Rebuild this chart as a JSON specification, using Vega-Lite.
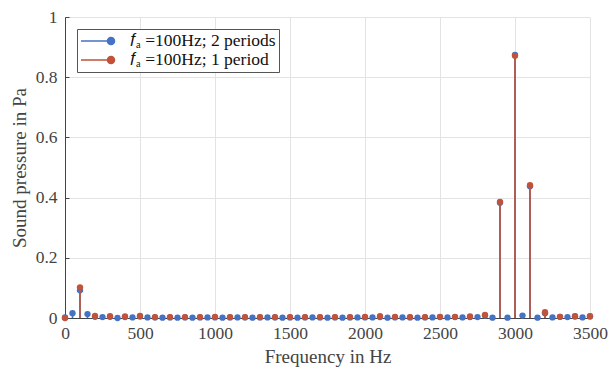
{
  "$schema": "https://vega.github.io/schema/vega-lite/v6.json",
  "width": 525,
  "height": 301,
  "autosize": {"type": "none"},
  "padding": {"left": 65, "top": 17, "right": 19, "bottom": 52},
  "background": "white",
  "config": {
    "view": {"stroke": null},
    "font": "Liberation Serif",
    "style": {"guide-label": {"font": "Liberation Serif"}, "guide-title": {"font": "Liberation Serif"}},
    "axis": {
      "labelFont": "Liberation Serif",
      "titleFont": "Liberation Serif",
      "labelFontSize": 17.5,
      "titleFontSize": 19,
      "titleFontWeight": "normal",
      "labelColor": "#444444",
      "titleColor": "#444444",
      "domainColor": "#444444",
      "tickColor": "#444444",
      "gridColor": "#e3e3e3",
      "tickSize": -4,
      "labelFlush": false
    }
  },
  "data": {
    "values": [
      {"f": 0, "p": 0.002, "k": 2},
      {"f": 50, "p": 0.016, "k": 2},
      {"f": 100, "p": 0.092, "k": 2},
      {"f": 150, "p": 0.013, "k": 2},
      {"f": 200, "p": 0.004, "k": 2},
      {"f": 250, "p": 0.003, "k": 2},
      {"f": 300, "p": 0.004, "k": 2},
      {"f": 350, "p": 0.0, "k": 2},
      {"f": 400, "p": 0.003, "k": 2},
      {"f": 450, "p": 0.002, "k": 2},
      {"f": 500, "p": 0.005, "k": 2},
      {"f": 550, "p": 0.002, "k": 2},
      {"f": 600, "p": 0.002, "k": 2},
      {"f": 650, "p": 0.001, "k": 2},
      {"f": 700, "p": 0.002, "k": 2},
      {"f": 750, "p": 0.001, "k": 2},
      {"f": 800, "p": 0.002, "k": 2},
      {"f": 850, "p": 0.001, "k": 2},
      {"f": 900, "p": 0.002, "k": 2},
      {"f": 950, "p": 0.002, "k": 2},
      {"f": 1000, "p": 0.002, "k": 2},
      {"f": 1050, "p": 0.001, "k": 2},
      {"f": 1100, "p": 0.002, "k": 2},
      {"f": 1150, "p": 0.002, "k": 2},
      {"f": 1200, "p": 0.002, "k": 2},
      {"f": 1250, "p": 0.001, "k": 2},
      {"f": 1300, "p": 0.002, "k": 2},
      {"f": 1350, "p": 0.002, "k": 2},
      {"f": 1400, "p": 0.002, "k": 2},
      {"f": 1450, "p": 0.001, "k": 2},
      {"f": 1500, "p": 0.002, "k": 2},
      {"f": 1550, "p": 0.001, "k": 2},
      {"f": 1600, "p": 0.002, "k": 2},
      {"f": 1650, "p": 0.002, "k": 2},
      {"f": 1700, "p": 0.002, "k": 2},
      {"f": 1750, "p": 0.001, "k": 2},
      {"f": 1800, "p": 0.002, "k": 2},
      {"f": 1850, "p": 0.001, "k": 2},
      {"f": 1900, "p": 0.002, "k": 2},
      {"f": 1950, "p": 0.002, "k": 2},
      {"f": 2000, "p": 0.002, "k": 2},
      {"f": 2050, "p": 0.002, "k": 2},
      {"f": 2100, "p": 0.003, "k": 2},
      {"f": 2150, "p": 0.001, "k": 2},
      {"f": 2200, "p": 0.002, "k": 2},
      {"f": 2250, "p": 0.002, "k": 2},
      {"f": 2300, "p": 0.002, "k": 2},
      {"f": 2350, "p": 0.001, "k": 2},
      {"f": 2400, "p": 0.002, "k": 2},
      {"f": 2450, "p": 0.002, "k": 2},
      {"f": 2500, "p": 0.003, "k": 2},
      {"f": 2550, "p": 0.002, "k": 2},
      {"f": 2600, "p": 0.003, "k": 2},
      {"f": 2650, "p": 0.002, "k": 2},
      {"f": 2700, "p": 0.003, "k": 2},
      {"f": 2750, "p": 0.003, "k": 2},
      {"f": 2800, "p": 0.008, "k": 2},
      {"f": 2850, "p": 0.001, "k": 2},
      {"f": 2900, "p": 0.383, "k": 2},
      {"f": 2950, "p": 0.001, "k": 2},
      {"f": 3000, "p": 0.874, "k": 2},
      {"f": 3050, "p": 0.008, "k": 2},
      {"f": 3100, "p": 0.438, "k": 2},
      {"f": 3150, "p": 0.001, "k": 2},
      {"f": 3200, "p": 0.016, "k": 2},
      {"f": 3250, "p": 0.002, "k": 2},
      {"f": 3300, "p": 0.004, "k": 2},
      {"f": 3350, "p": 0.003, "k": 2},
      {"f": 3400, "p": 0.005, "k": 2},
      {"f": 3450, "p": 0.002, "k": 2},
      {"f": 3500, "p": 0.005, "k": 2},
      {"f": 0, "p": 0.0, "k": 1},
      {"f": 100, "p": 0.102, "k": 1},
      {"f": 200, "p": 0.007, "k": 1},
      {"f": 300, "p": 0.006, "k": 1},
      {"f": 400, "p": 0.005, "k": 1},
      {"f": 500, "p": 0.007, "k": 1},
      {"f": 600, "p": 0.003, "k": 1},
      {"f": 700, "p": 0.003, "k": 1},
      {"f": 800, "p": 0.003, "k": 1},
      {"f": 900, "p": 0.003, "k": 1},
      {"f": 1000, "p": 0.004, "k": 1},
      {"f": 1100, "p": 0.003, "k": 1},
      {"f": 1200, "p": 0.003, "k": 1},
      {"f": 1300, "p": 0.003, "k": 1},
      {"f": 1400, "p": 0.003, "k": 1},
      {"f": 1500, "p": 0.003, "k": 1},
      {"f": 1600, "p": 0.003, "k": 1},
      {"f": 1700, "p": 0.003, "k": 1},
      {"f": 1800, "p": 0.003, "k": 1},
      {"f": 1900, "p": 0.003, "k": 1},
      {"f": 2000, "p": 0.004, "k": 1},
      {"f": 2100, "p": 0.006, "k": 1},
      {"f": 2200, "p": 0.004, "k": 1},
      {"f": 2300, "p": 0.003, "k": 1},
      {"f": 2400, "p": 0.003, "k": 1},
      {"f": 2500, "p": 0.004, "k": 1},
      {"f": 2600, "p": 0.004, "k": 1},
      {"f": 2700, "p": 0.005, "k": 1},
      {"f": 2800, "p": 0.010, "k": 1},
      {"f": 2900, "p": 0.386, "k": 1},
      {"f": 3000, "p": 0.871, "k": 1},
      {"f": 3100, "p": 0.441, "k": 1},
      {"f": 3200, "p": 0.019, "k": 1},
      {"f": 3300, "p": 0.004, "k": 1},
      {"f": 3400, "p": 0.006, "k": 1},
      {"f": 3500, "p": 0.006, "k": 1}
    ]
  },
  "transform": [
    {"calculate": "datum.k === 2 ? '𝑓ₐ =100Hz; 2 periods' : '𝑓ₐ =100Hz; 1 period'", "as": "series"}
  ],
  "encoding": {
    "x": {
      "field": "f", "type": "quantitative",
      "scale": {"domain": [0, 3500], "nice": false},
      "axis": {"title": "Frequency in Hz", "format": "d", "values": [0, 500, 1000, 1500, 2000, 2500, 3000, 3500], "grid": true, "labelFont": "Liberation Serif", "labelPadding": 10, "titlePadding": 6}
    },
    "y": {
      "field": "p", "type": "quantitative",
      "scale": {"domain": [0, 1], "nice": false},
      "axis": {"title": "Sound pressure in Pa", "format": "~g", "values": [0, 0.2, 0.4, 0.6, 0.8, 1], "grid": true, "labelFont": "Liberation Serif", "labelPadding": 12, "titlePadding": 6}
    },
    "color": {
      "field": "series", "type": "nominal",
      "scale": {"domain": ["𝑓ₐ =100Hz; 2 periods", "𝑓ₐ =100Hz; 1 period"], "range": ["#4472c4", "#c0533a"]},
      "legend": {
        "title": null,
        "orient": "top-left",
        "offset": 12,
        "fillColor": "white",
        "strokeColor": "#555555",
        "padding": 3,
        "labelFont": "Liberation Serif",
        "labelFontSize": 17.5,
        "labelColor": "#111111",
        "symbolType": "M-1,0H2.75M3.19,0A0.44,0.44,0,1,1,2.31,0A0.44,0.44,0,1,1,3.19,0Z",
        "symbolSize": 256,
        "symbolStrokeWidth": 1.5,
        "labelOffset": 32,
        "rowPadding": 1,
        "encode": {"symbols": {"update": {"stroke": {"scale": "color", "field": "value"}, "fill": {"scale": "color", "field": "value"}, "fillOpacity": {"value": 1}, "strokeWidth": {"value": 1.5}}}}
      }
    }
  },
  "layer": [
    {"transform": [{"filter": "datum.k === 2"}], "mark": {"type": "rule", "strokeWidth": 1.6}, "encoding": {"y2": {"datum": 0}}},
    {"transform": [{"filter": "datum.k === 2"}], "mark": {"type": "point", "filled": true, "size": 40, "opacity": 1}},
    {"transform": [{"filter": "datum.k === 1"}], "mark": {"type": "rule", "strokeWidth": 1.6}, "encoding": {"y2": {"datum": 0}}},
    {"transform": [{"filter": "datum.k === 1"}], "mark": {"type": "point", "filled": true, "size": 40, "opacity": 1}}
  ]
}
